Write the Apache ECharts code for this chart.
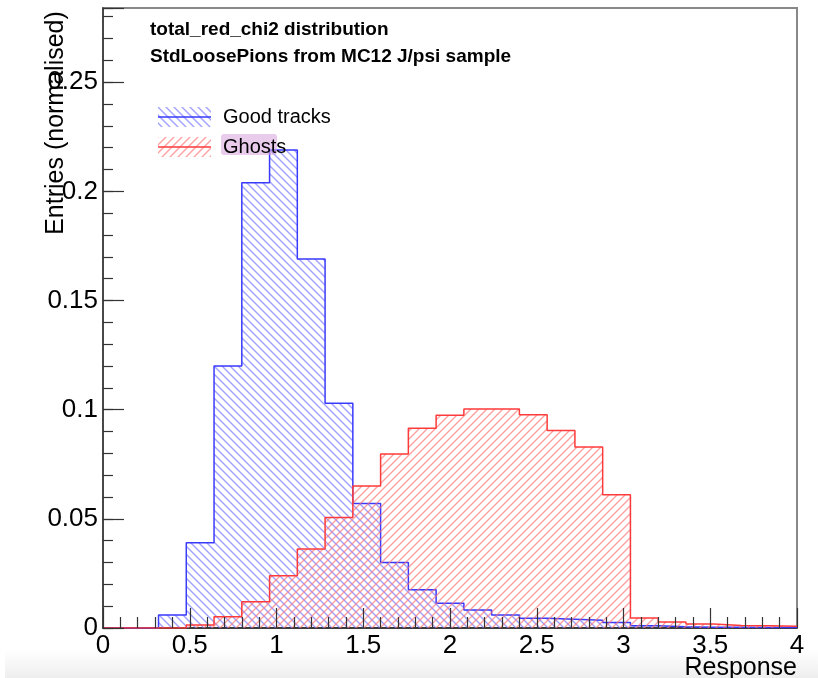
<!DOCTYPE html>
<html>
<head>
<meta charset="utf-8">
<script src="https://cdn.jsdelivr.net/npm/echarts@6/dist/echarts.min.js"></script>
<style>html,body{margin:0;padding:0;background:#fff}#c{width:818px;height:678px}</style>
</head>
<body>
<div id="c"></div>
<script>
// ---- data ----
const binEdges = [0, 0.16, 0.32, 0.48, 0.64, 0.80, 0.96, 1.12, 1.28, 1.44, 1.60, 1.76, 1.92, 2.08, 2.24, 2.40, 2.56, 2.72, 2.88, 3.04, 3.20, 3.36, 3.52, 3.68, 3.84, 4.00];
const goodTracks = [0, 0, 0.006, 0.039, 0.120, 0.204, 0.219, 0.169, 0.103, 0.057, 0.030, 0.0175, 0.0113, 0.0083, 0.006, 0.0045, 0.004, 0.0035, 0.0025, 0.001, 0.0006, 0.0004, 0.0003, 0.0002, 0.0002];
const ghosts = [0, 0, 0, 0.0014, 0.0052, 0.012, 0.0239, 0.0362, 0.0506, 0.0651, 0.0797, 0.0915, 0.0975, 0.1003, 0.1003, 0.0977, 0.0905, 0.0829, 0.061, 0.0046, 0.0028, 0.0018, 0.0012, 0.001, 0.0008];
const seriesNames = ['Good tracks', 'Ghosts'];
const titleLines = ['total_red_chi2 distribution', 'StdLoosePions from MC12 J/psi sample'];
const xTitle = 'Response';
const yTitle = 'Entries (normalised)';

const FONT = 'Liberation Sans, Arial, Helvetica, sans-serif';

function hatch(color, dir) {
  const s = 8;
  const c = document.createElement('canvas');
  c.width = s; c.height = s;
  const ctx = c.getContext('2d');
  ctx.strokeStyle = color; ctx.lineWidth = 1.4;
  ctx.beginPath();
  if (dir > 0) {
    ctx.moveTo(-1, s + 1); ctx.lineTo(s + 1, -1);
    ctx.moveTo(-1, 1); ctx.lineTo(1, -1);
    ctx.moveTo(s - 1, s + 1); ctx.lineTo(s + 1, s - 1);
  } else {
    ctx.moveTo(-1, -1); ctx.lineTo(s + 1, s + 1);
    ctx.moveTo(-1, s - 1); ctx.lineTo(1, s + 1);
    ctx.moveTo(s - 1, -1); ctx.lineTo(s + 1, 1);
  }
  ctx.stroke();
  return c;
}
function legendIcon(hatchCanvas, lineColor) {
  const c = document.createElement('canvas');
  c.width = 53; c.height = 20;
  const ctx = c.getContext('2d');
  ctx.fillStyle = ctx.createPattern(hatchCanvas, 'repeat');
  ctx.fillRect(0, 0, 53, 20);
  ctx.strokeStyle = lineColor; ctx.lineWidth = 1.5;
  ctx.beginPath(); ctx.moveTo(0, 10); ctx.lineTo(53, 10); ctx.stroke();
  return 'image://' + c.toDataURL();
}

const blueHatch = hatch('rgba(110,110,255,0.65)', -1);
const redHatch = hatch('rgba(255,110,110,0.65)', 1);
const blueLine = '#3a3aff';
const redLine = '#ff3a3a';

function stepData(vals) {
  const d = [];
  for (let i = 0; i < vals.length; i++) d.push([binEdges[i], vals[i]]);
  d.push([binEdges[vals.length], vals[vals.length - 1]]);
  return d;
}

const chart = echarts.init(document.getElementById('c'), null, {renderer: 'canvas'});
const grid = {left: 103, right: 21, top: 8, bottom: 50, show: true, borderColor: '#888', borderWidth: 2, backgroundColor: 'transparent'};
const yFmt = v => {
  const k = v / 0.05;
  if (Math.abs(k - Math.round(k)) > 1e-6) return '';
  return v === 0 ? '0' : String(+v.toFixed(2));
};
chart.setOption({
  animation: false,
  backgroundColor: '#fff',
  title: {
    text: titleLines.join('\n'), left: 150, top: 16, padding: 0,
    textStyle: {fontFamily: FONT, fontSize: 19, fontWeight: 'bold', color: '#000', lineHeight: 27}
  },
  legend: {
    orient: 'vertical', left: 158, top: 107, itemWidth: 53, itemHeight: 20, itemGap: 10, padding: 0,
    selectedMode: false, z: 6,
    textStyle: {fontFamily: FONT, fontSize: 20, color: '#000', padding: [0, 0, 0, 7]},
    data: [
      {name: seriesNames[0], icon: legendIcon(blueHatch, blueLine)},
      {name: seriesNames[1], icon: legendIcon(redHatch, redLine)}
    ]
  },
  grid: grid,
  xAxis: [
    {type: 'value', min: 0, max: 4, interval: 0.5, z: 1,
     axisLine: {show: true, lineStyle: {color: '#222', width: 1.5}},
     axisTick: {show: false}, splitLine: {show: false},
     axisLabel: {fontFamily: FONT, fontSize: 26, color: '#000', margin: 5}},
    {type: 'value', min: 0, max: 4, interval: 0.5, z: 5, position: 'bottom',
     axisLine: {show: false}, axisLabel: {show: false}, splitLine: {show: false},
     axisTick: {show: true, inside: true, length: 20, lineStyle: {color: '#333', width: 1.2}},
     minorTick: {show: true, splitNumber: 5, length: 11, lineStyle: {color: '#333', width: 1.2}}}
  ],
  yAxis: [
    {type: 'value', min: 0, max: 0.284, interval: 0.01, z: 1,
     axisLine: {show: true, lineStyle: {color: '#333', width: 1.5}},
     axisTick: {show: false}, splitLine: {show: false},
     axisLabel: {fontFamily: FONT, fontSize: 26, color: '#000', margin: 5, showMaxLabel: false, formatter: yFmt}},
    {type: 'value', min: 0, max: 0.284, interval: 0.01, z: 5, position: 'left',
     axisLine: {show: false}, axisLabel: {show: false}, splitLine: {show: false},
     axisTick: {show: true, inside: true, length: 10, lineStyle: {color: '#333', width: 1.2}}},
    {type: 'value', min: 0, max: 0.284, interval: 0.05, z: 5, position: 'left',
     axisLine: {show: false}, axisLabel: {show: false}, splitLine: {show: false},
     axisTick: {show: true, inside: true, length: 21, lineStyle: {color: '#333', width: 1.2}}}
  ],
  series: [
    {name: seriesNames[0], type: 'line', step: 'end', symbol: 'none', z: 2,
     xAxisIndex: 0, yAxisIndex: 0, data: stepData(goodTracks),
     lineStyle: {color: blueLine, width: 1.5}, itemStyle: {color: blueLine},
     areaStyle: {color: {image: blueHatch, repeat: 'repeat'}, opacity: 1}},
    {name: seriesNames[1], type: 'line', step: 'end', symbol: 'none', z: 3,
     xAxisIndex: 0, yAxisIndex: 0, data: stepData(ghosts),
     lineStyle: {color: redLine, width: 1.5}, itemStyle: {color: redLine},
     areaStyle: {color: {image: redHatch, repeat: 'repeat'}, opacity: 1}}
  ],
  graphic: [
    {type: 'rect', z: -10, left: 5, top: 650, shape: {width: 813, height: 28},
     style: {fill: new echarts.graphic.LinearGradient(0, 0, 0, 1, [{offset: 0, color: '#ffffff'}, {offset: 1, color: '#eeeeee'}])}},
    {type: 'rect', z: 5, left: 221, top: 134, shape: {width: 56, height: 21, r: 3},
     style: {fill: 'rgba(215,160,220,0.55)'}},
    {type: 'text', z: 10, x: 56, y: 123, rotation: Math.PI / 2,
     style: {text: yTitle, font: '25px ' + FONT, fill: '#000', textAlign: 'center', textVerticalAlign: 'middle'}},
    {type: 'text', z: 10, x: 797, y: 668,
     style: {text: xTitle, font: '25px ' + FONT, fill: '#000', textAlign: 'right', textVerticalAlign: 'middle'}}
  ]
});
</script>
</body>
</html>
